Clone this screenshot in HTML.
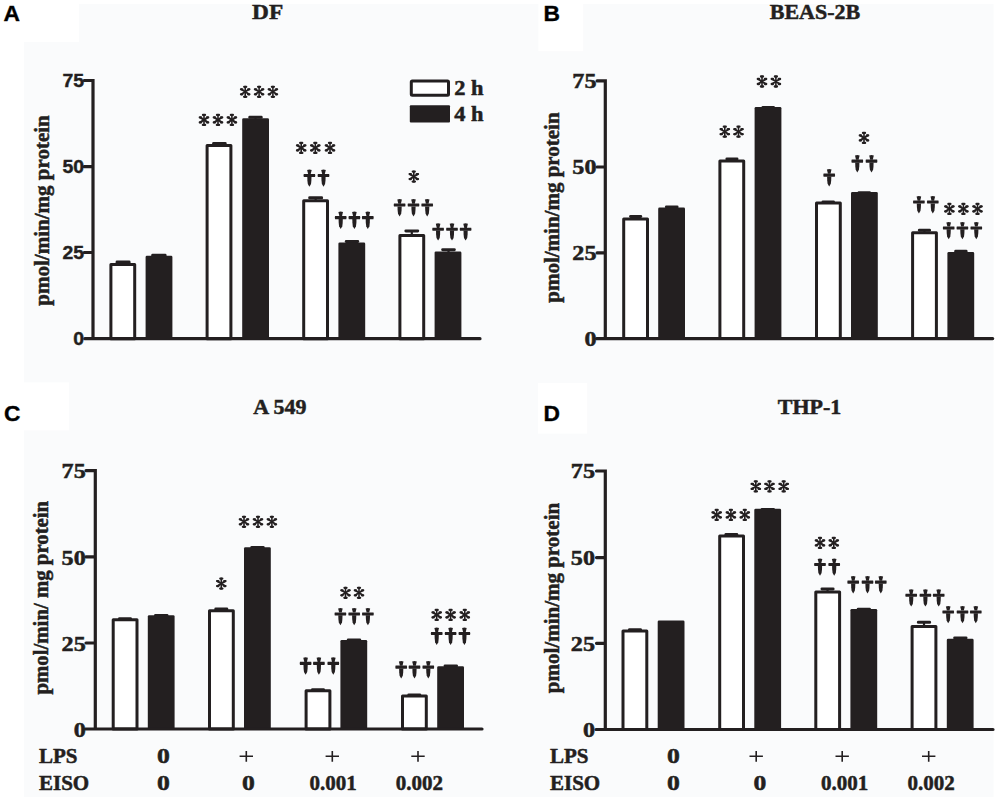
<!DOCTYPE html><html><head><meta charset="utf-8"><title>Figure</title><style>
html,body{margin:0;padding:0;background:#fff;width:1000px;height:805px;overflow:hidden}
svg{display:block}
.sr{font-family:"Liberation Serif",serif;font-weight:bold;fill:#231f20;stroke:#231f20;stroke-width:0.5px;paint-order:stroke}
.ss{font-family:"Liberation Sans",sans-serif;font-weight:bold;stroke:#231f20;stroke-width:0.4px;paint-order:stroke}
</style></head><body>
<svg width="1000" height="805" viewBox="0 0 1000 805">
<defs>
<g id="st" stroke="#231f20" fill="none" stroke-linecap="round"><path d="M0,-5.2V5.2" stroke-width="1.6"/><path d="M-3.9,-2.5L3.9,2.5M-3.9,2.5L3.9,-2.5" stroke-width="1.9"/><path d="M-4.2,-2.5h1.3M-4.2,2.5h1.3M4.2,-2.5h-1.3M4.2,2.5h-1.3M-1,-5h2M-1.1,5h2.2" stroke-width="2.3"/></g>
<g id="dg" fill="#231f20"><path d="M-2.3,0.4Q0,-0.6 2.3,0.4L1.3,4.6H-1.3Z"/><path d="M-5.6,4.4H5.6Q6.2,5.95 5.6,7.5H-5.6Q-6.2,5.95 -5.6,4.4Z"/><path d="M-2.1,7.3H2.1L2.0,11L1.6,14.6L0,17.3L-1.6,14.6L-2.0,11Z"/></g>
</defs>
<rect width="1000" height="805" fill="#fff"/>
<rect x="24" y="4" width="969.5" height="793" fill="#fafbfc"/>
<rect x="24" y="4" width="55" height="38" fill="#fff"/>
<rect x="538.4" y="0" width="44.8" height="51.2" fill="#fff"/>
<rect x="24" y="382.4" width="45" height="48" fill="#fff"/>
<rect x="537.9" y="382.9" width="49.3" height="50.7" fill="#fff"/>
<rect x="122" y="261.6" width="2.2" height="2.4" fill="#231f20"/>
<rect x="115.6" y="260.6" width="15" height="3" rx="1.4" fill="#231f20"/>
<rect x="110.9" y="264.5" width="23.8" height="74.2" fill="#fff" stroke="#231f20" stroke-width="3" stroke-linejoin="round"/>
<rect x="157.8" y="254.8" width="2.2" height="2" fill="#231f20"/>
<rect x="151.2" y="253.8" width="15.4" height="3" rx="1.4" fill="#231f20"/>
<rect x="145.6" y="255.8" width="26.8" height="82.9" rx="1.3" fill="#231f20"/>
<rect x="218.3" y="143.1" width="2.2" height="2" fill="#231f20"/>
<rect x="212.1" y="142.1" width="14.6" height="3" rx="1.4" fill="#231f20"/>
<rect x="207.1" y="145.6" width="23.8" height="193.1" fill="#fff" stroke="#231f20" stroke-width="3" stroke-linejoin="round"/>
<rect x="254.4" y="116.8" width="2.2" height="2.5" fill="#231f20"/>
<rect x="248.3" y="115.8" width="14.4" height="3" rx="1.4" fill="#231f20"/>
<rect x="242.2" y="118.3" width="26.8" height="220.4" rx="1.3" fill="#231f20"/>
<rect x="314.55" y="197.3" width="2.2" height="3" fill="#231f20"/>
<rect x="308.2" y="196.3" width="14.9" height="3" rx="1.4" fill="#231f20"/>
<rect x="303.7" y="200.8" width="23.8" height="137.9" fill="#fff" stroke="#231f20" stroke-width="3" stroke-linejoin="round"/>
<rect x="350.9" y="241" width="2.2" height="2.5" fill="#231f20"/>
<rect x="344.8" y="240" width="14.4" height="3" rx="1.4" fill="#231f20"/>
<rect x="338.4" y="242.5" width="26.8" height="96.2" rx="1.3" fill="#231f20"/>
<rect x="410.7" y="230.4" width="2.2" height="4.6" fill="#231f20"/>
<rect x="404.4" y="229.4" width="14.8" height="3" rx="1.4" fill="#231f20"/>
<rect x="399.9" y="235.5" width="23.8" height="103.2" fill="#fff" stroke="#231f20" stroke-width="3" stroke-linejoin="round"/>
<rect x="447.4" y="249.2" width="2.2" height="3.2" fill="#231f20"/>
<rect x="441.2" y="248.2" width="14.6" height="3" rx="1.4" fill="#231f20"/>
<rect x="434.6" y="251.4" width="26.8" height="87.3" rx="1.3" fill="#231f20"/>
<path d="M84.2,80.5H93V338.7M84.2,166.6H93M84.2,252.5H93M84.8,338.7H480" stroke="#231f20" stroke-width="3.2" fill="none" stroke-linecap="round" stroke-linejoin="miter"/>
<use href="#st" x="204" y="119.9"/>
<use href="#st" x="218" y="119.9"/>
<use href="#st" x="231.9" y="119.9"/>
<use href="#st" x="245.2" y="91.8"/>
<use href="#st" x="259.1" y="91.8"/>
<use href="#st" x="272.9" y="91.8"/>
<use href="#st" x="301.2" y="147.9"/>
<use href="#st" x="315.3" y="147.9"/>
<use href="#st" x="330" y="147.9"/>
<use href="#st" x="413.8" y="176.6"/>
<use href="#dg" x="309.4" y="169.5"/>
<use href="#dg" x="323.5" y="169.5"/>
<use href="#dg" x="340.7" y="211.7"/>
<use href="#dg" x="354.4" y="211.7"/>
<use href="#dg" x="367.8" y="211.7"/>
<use href="#dg" x="399.6" y="199.1"/>
<use href="#dg" x="413.5" y="199.1"/>
<use href="#dg" x="427.2" y="199.1"/>
<use href="#dg" x="438.1" y="223.3"/>
<use href="#dg" x="452" y="223.3"/>
<use href="#dg" x="465.6" y="223.3"/>
<rect x="634.55" y="216" width="2.2" height="2.5" fill="#231f20"/>
<rect x="629.1" y="215" width="13.1" height="3" rx="1.4" fill="#231f20"/>
<rect x="623.7" y="219" width="23.8" height="119.6" fill="#fff" stroke="#231f20" stroke-width="3" stroke-linejoin="round"/>
<rect x="670.65" y="206.5" width="2.2" height="2.1" fill="#231f20"/>
<rect x="664.9" y="205.5" width="13.7" height="3" rx="1.4" fill="#231f20"/>
<rect x="658.2" y="207.6" width="26.8" height="131" rx="1.3" fill="#231f20"/>
<rect x="730.85" y="158.5" width="2.2" height="1.9" fill="#231f20"/>
<rect x="725.4" y="157.5" width="13.1" height="3" rx="1.4" fill="#231f20"/>
<rect x="719.9" y="160.9" width="23.8" height="177.7" fill="#fff" stroke="#231f20" stroke-width="3" stroke-linejoin="round"/>
<rect x="767.1" y="107" width="2.2" height="1" fill="#231f20"/>
<rect x="761.4" y="106" width="13.6" height="3" rx="1.4" fill="#231f20"/>
<rect x="754.6" y="107" width="26.8" height="231.6" rx="1.3" fill="#231f20"/>
<rect x="827.15" y="201.6" width="2.2" height="1" fill="#231f20"/>
<rect x="821.5" y="200.6" width="13.5" height="3" rx="1.4" fill="#231f20"/>
<rect x="816.5" y="203.1" width="23.8" height="135.5" fill="#fff" stroke="#231f20" stroke-width="3" stroke-linejoin="round"/>
<rect x="863.15" y="192.2" width="2.2" height="0.9" fill="#231f20"/>
<rect x="857.5" y="191.2" width="13.5" height="3" rx="1.4" fill="#231f20"/>
<rect x="851" y="192.1" width="26.8" height="146.5" rx="1.3" fill="#231f20"/>
<rect x="923.35" y="229.7" width="2.2" height="2.5" fill="#231f20"/>
<rect x="917.9" y="228.7" width="13.1" height="3" rx="1.4" fill="#231f20"/>
<rect x="912.6" y="232.7" width="23.8" height="105.9" fill="#fff" stroke="#231f20" stroke-width="3" stroke-linejoin="round"/>
<rect x="959.8" y="250.8" width="2.2" height="2.3" fill="#231f20"/>
<rect x="954.2" y="249.8" width="13.4" height="3" rx="1.4" fill="#231f20"/>
<rect x="947.4" y="252.1" width="26.8" height="86.5" rx="1.3" fill="#231f20"/>
<path d="M597.1,80.9H605.3V338.6M597.1,167H605.3M597.1,252.9H605.3M596.5,338.6H992.7" stroke="#231f20" stroke-width="3.2" fill="none" stroke-linecap="round" stroke-linejoin="miter"/>
<use href="#st" x="724.8" y="131.7"/>
<use href="#st" x="738.5" y="131.7"/>
<use href="#st" x="762" y="81.5"/>
<use href="#st" x="775.9" y="81.5"/>
<use href="#st" x="864" y="137.9"/>
<use href="#st" x="949.4" y="208.9"/>
<use href="#st" x="963.4" y="208.9"/>
<use href="#st" x="977.5" y="208.9"/>
<use href="#dg" x="829.2" y="169.2"/>
<use href="#dg" x="857.3" y="155.2"/>
<use href="#dg" x="871.5" y="155.2"/>
<use href="#dg" x="918.9" y="196.1"/>
<use href="#dg" x="932.8" y="196.1"/>
<use href="#dg" x="948.7" y="222"/>
<use href="#dg" x="962.4" y="222"/>
<use href="#dg" x="976.3" y="222"/>
<rect x="123.9" y="618.3" width="2.2" height="1" fill="#231f20"/>
<rect x="118" y="617.3" width="14" height="3" rx="1.4" fill="#231f20"/>
<rect x="113.2" y="619.8" width="23.8" height="109.2" fill="#fff" stroke="#231f20" stroke-width="3" stroke-linejoin="round"/>
<rect x="160.15" y="615" width="2.2" height="1.2" fill="#231f20"/>
<rect x="154" y="614" width="14.5" height="3" rx="1.4" fill="#231f20"/>
<rect x="147.8" y="615.2" width="26.8" height="113.8" rx="1.3" fill="#231f20"/>
<rect x="220.2" y="608.6" width="2.2" height="1.7" fill="#231f20"/>
<rect x="214.3" y="607.6" width="14" height="3" rx="1.4" fill="#231f20"/>
<rect x="209.5" y="610.8" width="23.8" height="118.2" fill="#fff" stroke="#231f20" stroke-width="3" stroke-linejoin="round"/>
<rect x="256.4" y="546.9" width="2.2" height="1.3" fill="#231f20"/>
<rect x="250.3" y="545.9" width="14.4" height="3" rx="1.4" fill="#231f20"/>
<rect x="244" y="547.2" width="26.8" height="181.8" rx="1.3" fill="#231f20"/>
<rect x="316.9" y="689.3" width="2.2" height="1" fill="#231f20"/>
<rect x="311" y="688.3" width="14" height="3" rx="1.4" fill="#231f20"/>
<rect x="306.1" y="690.8" width="23.8" height="38.2" fill="#fff" stroke="#231f20" stroke-width="3" stroke-linejoin="round"/>
<rect x="352.9" y="639.4" width="2.2" height="1.5" fill="#231f20"/>
<rect x="346.8" y="638.4" width="14.4" height="3" rx="1.4" fill="#231f20"/>
<rect x="340.4" y="639.9" width="26.8" height="89.1" rx="1.3" fill="#231f20"/>
<rect x="413.2" y="694.5" width="2.2" height="1" fill="#231f20"/>
<rect x="407.3" y="693.5" width="14" height="3" rx="1.4" fill="#231f20"/>
<rect x="402.5" y="696" width="23.8" height="33" fill="#fff" stroke="#231f20" stroke-width="3" stroke-linejoin="round"/>
<rect x="449.7" y="665.4" width="2.2" height="1.9" fill="#231f20"/>
<rect x="443.6" y="664.4" width="14.4" height="3" rx="1.4" fill="#231f20"/>
<rect x="437.2" y="666.3" width="26.8" height="62.7" rx="1.3" fill="#231f20"/>
<path d="M86,470.6H95.3V729M86,556.8H95.3M86,643H95.3M85.5,729H482" stroke="#231f20" stroke-width="3.2" fill="none" stroke-linecap="round" stroke-linejoin="miter"/>
<use href="#st" x="221.3" y="583.6"/>
<use href="#st" x="244" y="521.8"/>
<use href="#st" x="258" y="521.8"/>
<use href="#st" x="271.9" y="521.8"/>
<use href="#st" x="345.5" y="592.8"/>
<use href="#st" x="359" y="592.8"/>
<use href="#st" x="436.7" y="614.9"/>
<use href="#st" x="450.6" y="614.9"/>
<use href="#st" x="464.8" y="614.9"/>
<use href="#dg" x="305.6" y="657.4"/>
<use href="#dg" x="318.9" y="657.4"/>
<use href="#dg" x="333.3" y="657.4"/>
<use href="#dg" x="340.4" y="608"/>
<use href="#dg" x="354.2" y="608"/>
<use href="#dg" x="367.9" y="608"/>
<use href="#dg" x="401.2" y="661.2"/>
<use href="#dg" x="414.5" y="661.2"/>
<use href="#dg" x="428.3" y="661.2"/>
<use href="#dg" x="436.7" y="627.6"/>
<use href="#dg" x="450.6" y="627.6"/>
<use href="#dg" x="464.4" y="627.6"/>
<rect x="633.9" y="629.2" width="2.2" height="1.2" fill="#231f20"/>
<rect x="628" y="628.2" width="14" height="3" rx="1.4" fill="#231f20"/>
<rect x="623" y="630.9" width="23.8" height="98.6" fill="#fff" stroke="#231f20" stroke-width="3" stroke-linejoin="round"/>
<rect x="657.7" y="620.5" width="26.8" height="109" rx="1.3" fill="#231f20"/>
<rect x="730.25" y="534" width="2.2" height="1.4" fill="#231f20"/>
<rect x="724.4" y="533" width="13.9" height="3" rx="1.4" fill="#231f20"/>
<rect x="719.7" y="535.9" width="23.8" height="193.6" fill="#fff" stroke="#231f20" stroke-width="3" stroke-linejoin="round"/>
<rect x="766.7" y="509" width="2.2" height="0.7" fill="#231f20"/>
<rect x="760.6" y="508" width="14.4" height="3" rx="1.4" fill="#231f20"/>
<rect x="754.3" y="508.7" width="26.8" height="220.8" rx="1.3" fill="#231f20"/>
<rect x="826.45" y="588.4" width="2.2" height="3" fill="#231f20"/>
<rect x="820.5" y="587.4" width="14.1" height="3" rx="1.4" fill="#231f20"/>
<rect x="815.8" y="591.9" width="23.8" height="137.6" fill="#fff" stroke="#231f20" stroke-width="3" stroke-linejoin="round"/>
<rect x="862.75" y="608.8" width="2.2" height="1.1" fill="#231f20"/>
<rect x="856.7" y="607.8" width="14.3" height="3" rx="1.4" fill="#231f20"/>
<rect x="850.4" y="608.9" width="26.8" height="120.6" rx="1.3" fill="#231f20"/>
<rect x="922.9" y="621.8" width="2.2" height="4.2" fill="#231f20"/>
<rect x="916.9" y="620.8" width="14.2" height="3" rx="1.4" fill="#231f20"/>
<rect x="912.1" y="626.5" width="23.8" height="103" fill="#fff" stroke="#231f20" stroke-width="3" stroke-linejoin="round"/>
<rect x="959.25" y="637.4" width="2.2" height="2.3" fill="#231f20"/>
<rect x="953.2" y="636.4" width="14.3" height="3" rx="1.4" fill="#231f20"/>
<rect x="946.8" y="638.7" width="26.8" height="90.8" rx="1.3" fill="#231f20"/>
<path d="M596.5,471H605.3V729.5M596.5,557.6H605.3M596.5,643.3H605.3M596,729.5H993" stroke="#231f20" stroke-width="3.2" fill="none" stroke-linecap="round" stroke-linejoin="miter"/>
<use href="#st" x="716.7" y="514.9"/>
<use href="#st" x="730.9" y="514.9"/>
<use href="#st" x="744.8" y="514.9"/>
<use href="#st" x="755.8" y="486.4"/>
<use href="#st" x="769.5" y="486.4"/>
<use href="#st" x="783.7" y="486.4"/>
<use href="#st" x="820" y="542.9"/>
<use href="#st" x="833.8" y="542.9"/>
<use href="#dg" x="820" y="558.5"/>
<use href="#dg" x="834.2" y="558.5"/>
<use href="#dg" x="853.2" y="576.2"/>
<use href="#dg" x="867.5" y="576.2"/>
<use href="#dg" x="880.8" y="576.2"/>
<use href="#dg" x="911.2" y="589.3"/>
<use href="#dg" x="925.4" y="589.3"/>
<use href="#dg" x="938.7" y="589.3"/>
<use href="#dg" x="948.2" y="606"/>
<use href="#dg" x="962.5" y="606"/>
<use href="#dg" x="975.8" y="606"/>
<text class="ss" x="3.5" y="20.6" font-size="22.8" fill="#000" stroke="#000" stroke-width="0.3">A</text>
<text class="ss" x="543.6" y="20.6" font-size="22.8" fill="#000" stroke="#000" stroke-width="0.3">B</text>
<text class="ss" x="4.0" y="420.6" font-size="22.8" fill="#000" stroke="#000" stroke-width="0.3">C</text>
<text class="ss" x="543.6" y="420.6" font-size="22.8" fill="#000" stroke="#000" stroke-width="0.3">D</text>
<text class="sr" transform="translate(267.6,19.3) scale(1.06,1)" font-size="22" text-anchor="middle">DF</text>
<text class="sr" transform="translate(815,19.4) scale(1.0,1)" font-size="22" text-anchor="middle">BEAS-2B</text>
<text class="sr" transform="translate(279.8,414.1) scale(1.0,1)" font-size="22" text-anchor="middle">A 549</text>
<text class="sr" transform="translate(809.5,414.0) scale(1.0,1)" font-size="22" text-anchor="middle">THP-1</text>
<text class="sr" font-size="21" text-anchor="middle" transform="translate(49.3,210.45) rotate(-90)">pmol/min/mg protein</text>
<text class="sr" font-size="21" text-anchor="middle" transform="translate(559.4,207.55) rotate(-90)">pmol/min/mg protein</text>
<text class="sr" font-size="20.8" text-anchor="middle" transform="translate(48.4,597.7) rotate(-90)">pmol/min/ mg protein</text>
<text class="sr" font-size="21" text-anchor="middle" transform="translate(559.4,598) rotate(-90)">pmol/min/mg protein</text>
<text class="ss" transform="translate(84,87) scale(1.08,1)" font-size="18" text-anchor="end" fill="#231f20">75</text>
<text class="ss" transform="translate(84,173.1) scale(1.08,1)" font-size="18" text-anchor="end" fill="#231f20">50</text>
<text class="ss" transform="translate(84,259) scale(1.08,1)" font-size="18" text-anchor="end" fill="#231f20">25</text>
<text class="ss" transform="translate(84,345.1) scale(1.08,1)" font-size="18" text-anchor="end" fill="#231f20">0</text>
<text class="sr" transform="translate(596.5,87.9) scale(1.15,1)" font-size="21" text-anchor="end">75</text>
<text class="sr" transform="translate(596.5,174) scale(1.15,1)" font-size="21" text-anchor="end">50</text>
<text class="sr" transform="translate(596.5,259.9) scale(1.15,1)" font-size="21" text-anchor="end">25</text>
<text class="sr" transform="translate(596.5,345.6) scale(1.15,1)" font-size="21" text-anchor="end">0</text>
<text class="sr" transform="translate(85.7,478.4) scale(1.15,1)" font-size="21" text-anchor="end">75</text>
<text class="sr" transform="translate(85.7,564.6) scale(1.15,1)" font-size="21" text-anchor="end">50</text>
<text class="sr" transform="translate(85.7,650.8) scale(1.15,1)" font-size="21" text-anchor="end">25</text>
<text class="sr" transform="translate(85.7,736.8) scale(1.15,1)" font-size="21" text-anchor="end">0</text>
<text class="sr" transform="translate(595,478.2) scale(1.15,1)" font-size="21" text-anchor="end">75</text>
<text class="sr" transform="translate(595,564.8) scale(1.15,1)" font-size="21" text-anchor="end">50</text>
<text class="sr" transform="translate(595,650.5) scale(1.15,1)" font-size="21" text-anchor="end">25</text>
<text class="sr" transform="translate(595,736.7) scale(1.15,1)" font-size="21" text-anchor="end">0</text>
<rect x="411.3" y="81" width="37.2" height="14.3" fill="#fff" stroke="#231f20" stroke-width="3" rx="1"/>
<rect x="409.8" y="105.2" width="40.2" height="17.3" fill="#231f20" rx="1"/>
<text class="sr" transform="translate(454.3,95) scale(1.12,1)" font-size="20">2 h</text>
<text class="sr" transform="translate(454.3,120.5) scale(1.12,1)" font-size="20">4 h</text>
<text class="sr" x="39" y="762.5" font-size="21">LPS</text>
<text class="sr" x="39" y="790" font-size="21">EISO</text>
<text class="sr" x="550" y="762.5" font-size="21">LPS</text>
<text class="sr" x="550" y="790" font-size="21">EISO</text>
<text class="sr" transform="translate(163.3,762.8) scale(1.22,1.04)" font-size="21" text-anchor="middle">0</text>
<path d="M239.6,756.2h13.4M246.3,751v10.8" stroke="#231f20" stroke-width="1.6" fill="none"/>
<path d="M325.6,756.2h13.4M332.3,751v10.8" stroke="#231f20" stroke-width="1.6" fill="none"/>
<path d="M411.3,756.2h13.4M418,751v10.8" stroke="#231f20" stroke-width="1.6" fill="none"/>
<text class="sr" transform="translate(163.3,790.3) scale(1.22,1.04)" font-size="21" text-anchor="middle">0</text>
<text class="sr" transform="translate(248.5,790.3) scale(1.22,1.04)" font-size="21" text-anchor="middle">0</text>
<text class="sr" x="333" y="790" font-size="21" text-anchor="middle">0.001</text>
<text class="sr" x="419.3" y="790" font-size="21" text-anchor="middle">0.002</text>
<text class="sr" transform="translate(673.4,762.8) scale(1.22,1.04)" font-size="21" text-anchor="middle">0</text>
<path d="M749.5,756.2h13.4M756.2,751v10.8" stroke="#231f20" stroke-width="1.6" fill="none"/>
<path d="M835.5,756.2h13.4M842.2,751v10.8" stroke="#231f20" stroke-width="1.6" fill="none"/>
<path d="M922,756.2h13.4M928.7,751v10.8" stroke="#231f20" stroke-width="1.6" fill="none"/>
<text class="sr" transform="translate(673.4,790.3) scale(1.22,1.04)" font-size="21" text-anchor="middle">0</text>
<text class="sr" transform="translate(759.9,790.3) scale(1.22,1.04)" font-size="21" text-anchor="middle">0</text>
<text class="sr" x="844.5" y="790" font-size="21" text-anchor="middle">0.001</text>
<text class="sr" x="931" y="790" font-size="21" text-anchor="middle">0.002</text>
</svg></body></html>
